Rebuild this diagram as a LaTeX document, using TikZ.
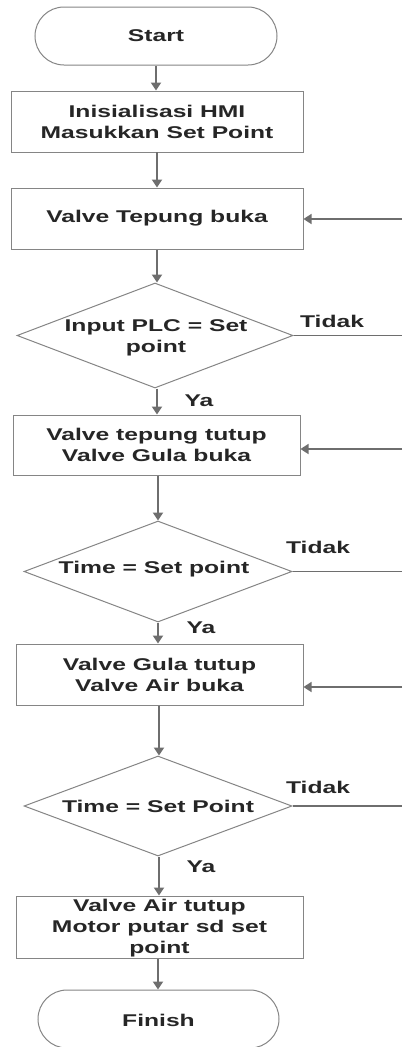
\documentclass[tikz,border=0pt]{standalone}
\usepackage{fontspec}
\setmainfont{Liberation Sans}[FakeStretch=1.45]
\usetikzlibrary{shapes.geometric,shapes.misc,arrows.meta,shadows}
\definecolor{lineg}{HTML}{6E6E6E}
\definecolor{borderg}{HTML}{858585}
\definecolor{txtc}{HTML}{262626}
\begin{document}
\begin{tikzpicture}[x=1pt,y=-1pt,
  txt/.style={font=\fontsize{17}{21}\selectfont\bfseries, text=txtc, align=center, inner sep=0pt},
  procbox/.style={draw=borderg, line width=1pt, fill=white, rectangle, inner sep=0pt,
    drop shadow={shadow xshift=1.3pt, shadow yshift=-1.3pt, opacity=0.3}},
  term/.style={draw=borderg, line width=1pt, fill=white, rounded rectangle, inner sep=0pt},
  dia/.style={draw=borderg, line width=1pt, fill=white, diamond, inner sep=0pt},
  arr/.style={draw=lineg, line width=2.4pt, -{Triangle[width=10pt,length=8pt]}},
  plain/.style={draw=lineg, line width=1.6pt}
]
\useasboundingbox (0,0) rectangle (402,1047);

% shapes
\node[term, minimum width=242pt, minimum height=58pt] (start) at (156,36) {};
\node[txt] (tstart) at (start) {Start};

\node[procbox, minimum width=292pt, minimum height=61pt] (b1) at (157,121.5) {};
\node[txt] (tb1) at (b1) {Inisialisasi HMI\\Masukkan Set Point};

\node[procbox, minimum width=292pt, minimum height=61pt] (b2) at (157,218.5) {};
\node[txt] (tb2) at (b2) {Valve Tepung buka};

\node[dia, minimum width=276pt, minimum height=105pt] (d1) at (155,335.5) {};
\node[txt] (td1) at (156,338) {Input PLC = Set\\point};

\node[procbox, minimum width=287pt, minimum height=60pt] (b3) at (156.5,445) {};
\node[txt] (tb3) at (b3) {Valve tepung tutup\\Valve Gula buka};

\node[dia, minimum width=268pt, minimum height=101pt] (d2) at (158,571.5) {};
\node[txt] (td2) at (154,569) {Time = Set point};

\node[procbox, minimum width=287pt, minimum height=61pt] (b4) at (159.5,674.5) {};
\node[txt] (tb4) at (b4) {Valve Gula tutup\\Valve Air buka};

\node[dia, minimum width=268pt, minimum height=100pt] (d3) at (158,806) {};
\node[txt] (td3) at (158,806) {Time = Set Point};

\node[procbox, minimum width=287pt, minimum height=62pt] (b5) at (159.5,927) {};
\node[txt] (tb5) at (159.5,928) {Valve Air tutup\\Motor putar sd set\\point};

\node[term, minimum width=241pt, minimum height=58pt] (finish) at (158.5,1019) {};
\node[txt] (tfin) at (158.5,1020) {Finish};

% labels
\node[txt] (t1) at (332,321) {Tidak};
\node[txt] (t2) at (318,547) {Tidak};
\node[txt] (t3) at (318,787) {Tidak};
\node[txt] (y1) at (199,401) {Ya};
\node[txt] (y2) at (201,628) {Ya};
\node[txt] (y3) at (201,867) {Ya};

% right edge coordinates
\coordinate (r1) at (402,219);
\coordinate (r2) at (402,449);
\coordinate (r3) at (402,687);
\coordinate (edge) at (402,0);

% main flow
\draw[arr] (start.south) -- (start.south |- b1.north);
\draw[arr] (157,152) -- (b2.north);
\draw[arr] (b2.south) -- (b2.south |- d1.north);
\draw[arr] (d1.south -| 157,0) -- (157,0 |- b3.north);
\draw[arr] (b3.south -| 158,0) -- (158,0 |- d2.north);
\draw[arr] (d2.south -| 158,0) -- (158,0 |- b4.north);
\draw[arr] (b4.south -| 159,0) -- (159,0 |- d3.north);
\draw[arr] (d3.south -| 159,0) -- (159,0 |- b5.north);
\draw[arr] (b5.south -| 158,0) -- (158,0 |- finish.north);

% loops from right edge
\draw[arr, line width=1.6pt] (r1) -- (b2.east |- r1);
\draw[arr, line width=1.6pt] (r2) -- (b3.east |- r2);
\draw[arr, line width=1.6pt] (r3) -- (b4.east |- r3);
\draw[plain] (d1.east) -- (d1.east -| edge);
\draw[plain] (d2.east) -- (d2.east -| edge);
\draw[plain] (d3.east) -- (d3.east -| edge);
\end{tikzpicture}
\end{document}
